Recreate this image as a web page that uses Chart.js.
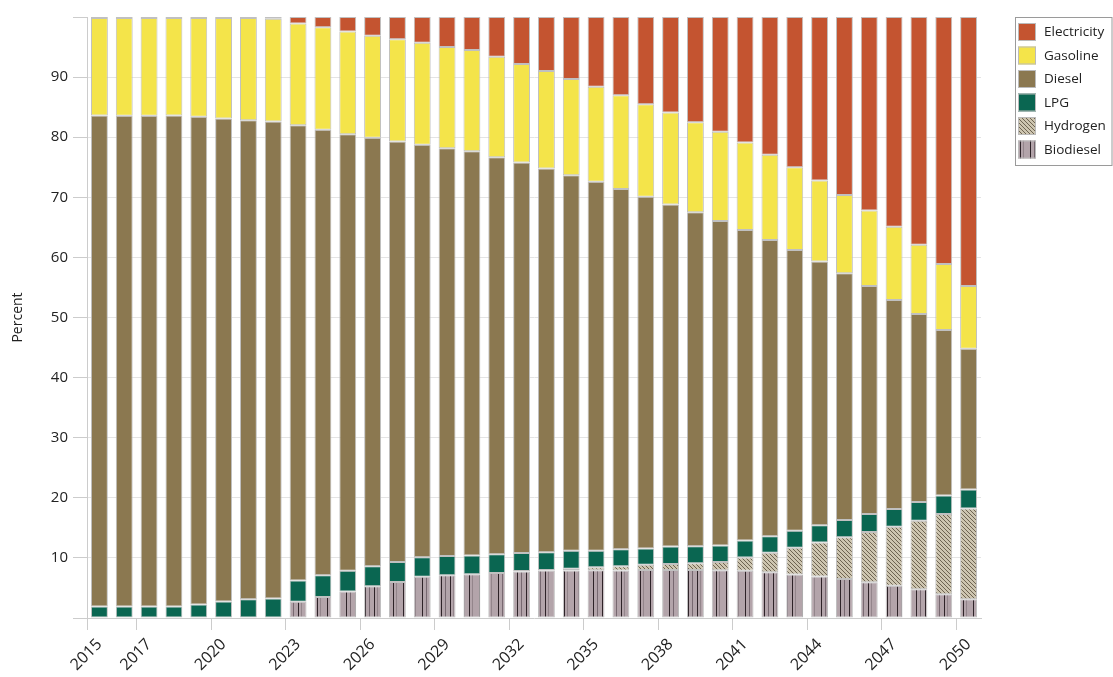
<!DOCTYPE html>
<html>
<head>
<meta charset="utf-8">
<script src="https://cdn.jsdelivr.net/npm/chart.js@4.4.1/dist/chart.umd.min.js"></script>
<style>
  html, body { margin: 0; padding: 0; background: #fff; }
  canvas { display: block; }
</style>
</head>
<body>
<canvas id="mixChart" width="1113" height="677"></canvas>
<script>

// data (percent share per year)
const years = ['2015','2016','2017','2018','2019','2020','2021','2022','2023','2024',
  '2025','2026','2027','2028','2029','2030','2031','2032','2033','2034',
  '2035','2036','2037','2038','2039','2040','2041','2042','2043','2044',
  '2045','2046','2047','2048','2049','2050'];

// only these years get a label + tick on the x axis
const shownYears = ['2015','2017','2020','2023','2026','2029','2032','2035','2038','2041','2044','2047','2050'];

const biodiesel = [0,0,0,0,0,0,0,0,2.7,3.5,
  4.4,5.3,6.0,6.85,7.1,7.3,7.5,7.75,7.9,7.9,
  7.95,7.9,8.0,8.0,8.0,7.95,7.85,7.6,7.25,6.9,
  6.5,5.95,5.35,4.8,3.95,3.1];

const hydrogen = [0,0,0,0,0,0,0,0,0,0,
  0,0,0,0,0,0,0,0.05,0.1,0.3,
  0.5,0.7,0.85,1.0,1.1,1.35,2.2,3.25,4.45,5.65,
  6.95,8.35,9.85,11.4,13.35,15.1];

const lpg = [1.9,1.9,1.9,1.9,2.25,2.75,3.1,3.25,3.55,3.6,
  3.45,3.3,3.3,3.25,3.2,3.1,3.1,3.0,2.95,3.0,
  2.75,2.85,2.7,2.9,2.85,2.75,2.85,2.75,2.8,2.9,
  2.85,3.0,2.95,3.1,3.1,3.2];

const diesel = [81.7,81.65,81.65,81.7,81.15,80.35,79.7,79.35,75.75,74.15,
  72.65,71.3,70.0,68.65,67.85,67.25,66.05,65.0,63.85,62.45,
  61.4,59.95,58.55,56.9,55.55,54.0,51.65,49.3,46.75,43.85,
  41.05,37.95,34.75,31.3,27.5,23.4];

const gasoline = [16.25,16.3,16.3,16.25,16.45,16.75,17.05,17.1,16.9,17.05,
  17.1,17.0,17.0,16.95,16.85,16.85,16.75,16.4,16.2,16.05,
  15.8,15.6,15.4,15.3,15.0,14.85,14.55,14.2,13.75,13.5,
  13.05,12.55,12.2,11.5,11.0,10.45];

const electricity = [0.15,0.15,0.15,0.15,0.15,0.15,0.15,0.3,1.1,1.7,
  2.4,3.1,3.7,4.3,5.0,5.5,6.6,7.8,9.0,10.3,
  11.6,13.0,14.5,15.9,17.5,19.1,20.9,22.9,25.0,27.2,
  29.6,32.2,34.9,37.9,41.1,44.75];


// fill patterns for hydrogen / biodiesel
function makeHatch() {
  const c = document.createElement('canvas');
  c.width = 4; c.height = 4;
  const g = c.getContext('2d');
  g.fillStyle = '#cdc5b0';
  g.fillRect(0, 0, 4, 4);
  g.strokeStyle = '#635947';
  g.lineWidth = 0.9;
  g.beginPath();
  g.moveTo(-1, -1); g.lineTo(5, 5);
  g.moveTo(-1, 3); g.lineTo(1, 5);
  g.moveTo(3, -1); g.lineTo(5, 1);
  g.stroke();
  return g.createPattern(c, 'repeat');
}

function makeStripes() {
  const c = document.createElement('canvas');
  c.width = 19; c.height = 4;
  const g = c.getContext('2d');
  g.fillStyle = '#b3a4aa';
  g.fillRect(0, 0, 19, 4);
  g.fillStyle = '#2e2328';
  g.fillRect(4, 0, 1, 4);
  g.fillRect(13, 0, 1, 4);
  g.fillStyle = '#776870';
  g.fillRect(8, 0, 1, 4);
  g.fillStyle = '#93858b';
  g.fillRect(16, 0, 1, 4);
  return g.createPattern(c, 'repeat');
}

Chart.defaults.font.family = "'Open Sans', 'Noto Sans', sans-serif";
Chart.defaults.color = '#222';

const barBorder = 'rgba(185,185,185,0.9)';

function ds(label, values, fill) {
  return {
    label: label,
    data: values,
    backgroundColor: fill,
    borderColor: barBorder,
    borderWidth: 1,
    borderSkipped: false,
    barPercentage: 0.68,
    categoryPercentage: 1.0
  };
}

// legend in a grey box, drawn by hand so it sits where the original has it
const boxLegend = {
  id: 'boxLegend',
  afterDraw(chart) {
    const ctx = chart.ctx;
    const items = chart.data.datasets.slice().reverse();
    const left = 1015, top = 17;
    const rowH = 23.5;
    ctx.save();
    ctx.strokeStyle = '#9a9a9a';
    ctx.lineWidth = 1;
    ctx.strokeRect(left + 0.5, top + 0.5, 1113 - left - 1.5, items.length * rowH + 7);
    ctx.font = "13.5px 'Open Sans', 'Noto Sans', sans-serif";
    ctx.textBaseline = 'middle';
    items.forEach((d, i) => {
      const cy = top + 15 + i * rowH;
      ctx.fillStyle = d.backgroundColor;
      ctx.fillRect(left + 3, cy - 9, 18, 18);
      ctx.strokeStyle = '#bbbbbb';
      ctx.strokeRect(left + 3.5, cy - 8.5, 17, 17);
      ctx.fillStyle = '#222';
      ctx.fillText(d.label, left + 29, cy + 0.5);
    });
    ctx.restore();
  }
};

const ctx = document.getElementById('mixChart').getContext('2d');

const chart = new Chart(ctx, {
  type: 'bar',
  data: {
    labels: years,
    datasets: [
      ds('Biodiesel', biodiesel, makeStripes()),
      ds('Hydrogen', hydrogen, makeHatch()),
      ds('LPG', lpg, '#0a6651'),
      ds('Diesel', diesel, '#8b7850'),
      ds('Gasoline', gasoline, '#f4e44a'),
      ds('Electricity', electricity, '#c45430')
    ]
  },
  options: {
    responsive: false,
    animation: false,
    layout: { padding: { top: 17, right: 132, bottom: 0, left: 0 } },
    plugins: {
      legend: { display: false },
      tooltip: { enabled: false }
    },
    scales: {
      x: {
        stacked: true,
        offset: true,
        afterFit: function(scale) { scale.height = 59; },
        border: { color: '#cccccc' },
        grid: {
          drawOnChartArea: false,
          tickLength: 12,
          tickColor: function(c) {
            return shownYears.includes(years[c.index]) ? '#cccccc' : 'rgba(0,0,0,0)';
          }
        },
        ticks: {
          autoSkip: false,
          minRotation: 45,
          maxRotation: 45,
          padding: 5,
          font: { size: 16 },
          color: '#222',
          callback: function(v, i) {
            return shownYears.includes(years[i]) ? years[i] : '';
          }
        }
      },
      y: {
        stacked: true,
        min: 0,
        max: 100,
        afterFit: function(scale) { scale.width = 87; },
        border: { color: '#cccccc' },
        grid: {
          tickLength: 14,
          tickColor: '#cccccc',
          color: function(c) {
            const v = c.tick.value;
            return (v === 0 || v === 100) ? 'rgba(0,0,0,0)' : '#e4e4e4';
          }
        },
        ticks: {
          stepSize: 10,
          padding: 5,
          font: { size: 15 },
          color: '#222',
          callback: function(v) {
            return (v === 0 || v === 100) ? '' : v;
          }
        },
        title: {
          display: true,
          text: 'Percent',
          font: { size: 14 },
          color: '#222',
          padding: { top: 10, bottom: 0 }
        }
      }
    }
  },
  plugins: [boxLegend]
});
</script>
</body>
</html>
